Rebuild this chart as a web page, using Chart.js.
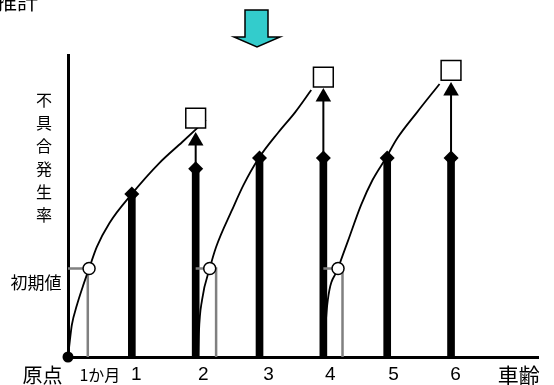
<!DOCTYPE html>
<html>
<head>
<meta charset="utf-8">
<script src="https://cdn.jsdelivr.net/npm/chart.js@4.4.1/dist/chart.umd.min.js"></script>
<style>
    html, body { margin: 0; padding: 0; background: #fff; overflow: hidden; }
</style>
</head>
<body>
<canvas id="chart" width="554" height="385"></canvas>
<script>
// 車齢ごとの不具合発生率 (縦棒) と推計値 (□)
const carAges = [1, 2, 3, 4, 5, 6];
const failureRate = [54, 62.3, 65.9, 65.9, 65.9, 65.9];
const estimateAges = [2, 4, 6];
const estimateRate = [79.1, 92.7, 94.9];
const arrowHeadRate = [71.5, 86.1, 88.1];
const initialAges = [0.33, 2.22, 4.23];
const initialRate = 29.3;
const guideStartAges = [0, 2, 4];
const guideAges = [0.31, 2.32, 4.3];

// 推計カーブ (x: 車齢, y: 発生率)
const curve1 = [[0, 0], [0.03, 5.6], [0.06, 10.6], [0.14, 17.2], [0.23, 23.2], [0.33, 29.3], [0.45, 36.4], [0.65, 44.4], [1, 54], [1.43, 64.2], [1.79, 71.2], [2.16, 78.5]];
const curve2 = [[2.04, 0], [2.05, 7.9], [2.1, 18.9], [2.22, 29.3], [2.32, 36.4], [2.57, 48.7], [2.75, 57], [2.99, 65.9], [3.3, 74.5], [3.56, 81.1], [3.81, 88.4]];
const curve3 = [[4.01, 0], [4.03, 8.9], [4.07, 18.9], [4.23, 29.3], [4.39, 38.7], [4.59, 50.3], [4.77, 58.6], [4.98, 65.9], [5.16, 72.5], [5.47, 81.1], [5.82, 90.4]];

const tickValues = [-0.4, 0.5, 1.07, 2.12, 3.14, 4.11, 5.1, 6.07, 7.06];
const tickLabels = ['原点', '1か月', '1', '2', '3', '4', '5', '6', '車齢'];

const CJK = '"Noto Sans CJK JP", "Noto Sans", sans-serif';
const LATIN = '"Liberation Sans", Arial, sans-serif';

function pts(list) {
    return list.map(p => ({x: p[0], y: p[1]}));
}

function lineSet(data, color, width, tension) {
    return {
        type: 'line',
        data: data,
        borderColor: color,
        borderWidth: width,
        pointRadius: 0,
        tension: tension,
        cubicInterpolationMode: tension ? 'monotone' : 'default',
        fill: false,
        clip: false
    };
}

function markerSet(data, style, radius, fillColor, border) {
    return {
        type: 'line',
        data: data,
        showLine: false,
        pointStyle: style,
        pointRadius: radius,
        pointBackgroundColor: fillColor,
        pointBorderColor: '#000',
        pointBorderWidth: border,
        clip: false
    };
}

const datasets = [];
// 上に描くものから順に
datasets.push(markerSet([{x: 0, y: 0}], 'circle', 5.5, '#000', 0));
datasets.push(markerSet(initialAges.map(a => ({x: a, y: initialRate})), 'circle', 6, '#fff', 1.5));
datasets.push(markerSet(estimateAges.map((a, i) => ({x: a, y: estimateRate[i]})), 'rect', 14, '#fff', 1.5));
datasets.push(markerSet(estimateAges.map((a, i) => ({x: a, y: arrowHeadRate[i]})), 'triangle', 9, '#000', 0));
datasets.push(markerSet(carAges.map((a, i) => ({x: a, y: failureRate[i]})), 'rectRot', 7.5, '#000', 0));
[curve1, curve2, curve3].forEach(c => datasets.push(lineSet(pts(c), '#000', 1.8, 0.4)));
estimateAges.forEach((a, i) => {
    const base = failureRate[carAges.indexOf(a)];
    datasets.push(lineSet([{x: a, y: base}, {x: a, y: arrowHeadRate[i]}], '#000', 2, 0));
});
guideAges.forEach((g, i) => {
    datasets.push(lineSet([
        {x: guideStartAges[i], y: initialRate},
        {x: g, y: initialRate},
        {x: g, y: 0}
    ], '#808080', 2.5, 0));
});
datasets.push({
    type: 'bar',
    data: carAges.map((a, i) => ({x: a, y: failureRate[i]})),
    backgroundColor: '#000',
    barThickness: 7,
    clip: false
});

const decor = {
    id: 'decor',
    beforeDraw(chart) {
        const c = chart.ctx;
        c.save();
        c.fillStyle = '#fff';
        c.fillRect(0, 0, chart.width, chart.height);
        c.restore();
    },
    afterDraw(chart) {
        const c = chart.ctx;
        const xs = chart.scales.x;
        const area = chart.chartArea;
        c.save();
        c.fillStyle = '#000';
        c.textAlign = 'center';
        c.textBaseline = 'middle';

        // x軸ラベル
        tickValues.forEach((v, i) => {
            const label = tickLabels[i];
            let font = '19px ' + LATIN;
            if (label === '原点') font = '20px ' + CJK;
            if (label === '車齢') font = '21px ' + CJK;
            if (label === '1か月') font = '16px ' + CJK;
            c.font = font;
            c.fillText(label, xs.getPixelForValue(v), area.bottom + 18);
        });

        // 縦書きの軸タイトル
        c.font = '16px ' + CJK;
        '不具合発生率'.split('').forEach((ch, i) => {
            c.fillText(ch, 44, 100 + i * 23);
        });
        c.font = '17px ' + CJK;
        c.fillText('初期値', 36, 283);

        // 上部の切れた見出し
        c.textAlign = 'left';
        c.textBaseline = 'alphabetic';
        c.font = '21px ' + CJK;
        c.fillText('推計', -4, 9);

        // 下向き矢印
        c.beginPath();
        c.moveTo(245, 10);
        c.lineTo(268, 10);
        c.lineTo(268, 37);
        c.lineTo(280, 37);
        c.lineTo(257, 47);
        c.lineTo(234, 37);
        c.lineTo(245, 37);
        c.closePath();
        c.fillStyle = '#33cccc';
        c.fill();
        c.lineWidth = 1.5;
        c.strokeStyle = '#000';
        c.stroke();
        c.restore();
    }
};

new Chart(document.getElementById('chart'), {
    type: 'scatter',
    data: {datasets: datasets},
    options: {
        responsive: false,
        animation: false,
        events: [],
        layout: {padding: {left: 68, right: 12, top: 55, bottom: 28}},
        scales: {
            x: {
                type: 'linear',
                min: 0,
                max: 7.37,
                offset: false,
                grid: {display: false, drawTicks: false, offset: false},
                border: {display: true, color: '#000', width: 3},
                ticks: {display: false}
            },
            y: {
                type: 'linear',
                min: 0,
                max: 100,
                grid: {display: false, drawTicks: false},
                border: {display: true, color: '#000', width: 3},
                ticks: {display: false}
            }
        },
        plugins: {
            legend: {display: false},
            tooltip: {enabled: false}
        }
    },
    plugins: [decor]
});
</script>
</body>
</html>
